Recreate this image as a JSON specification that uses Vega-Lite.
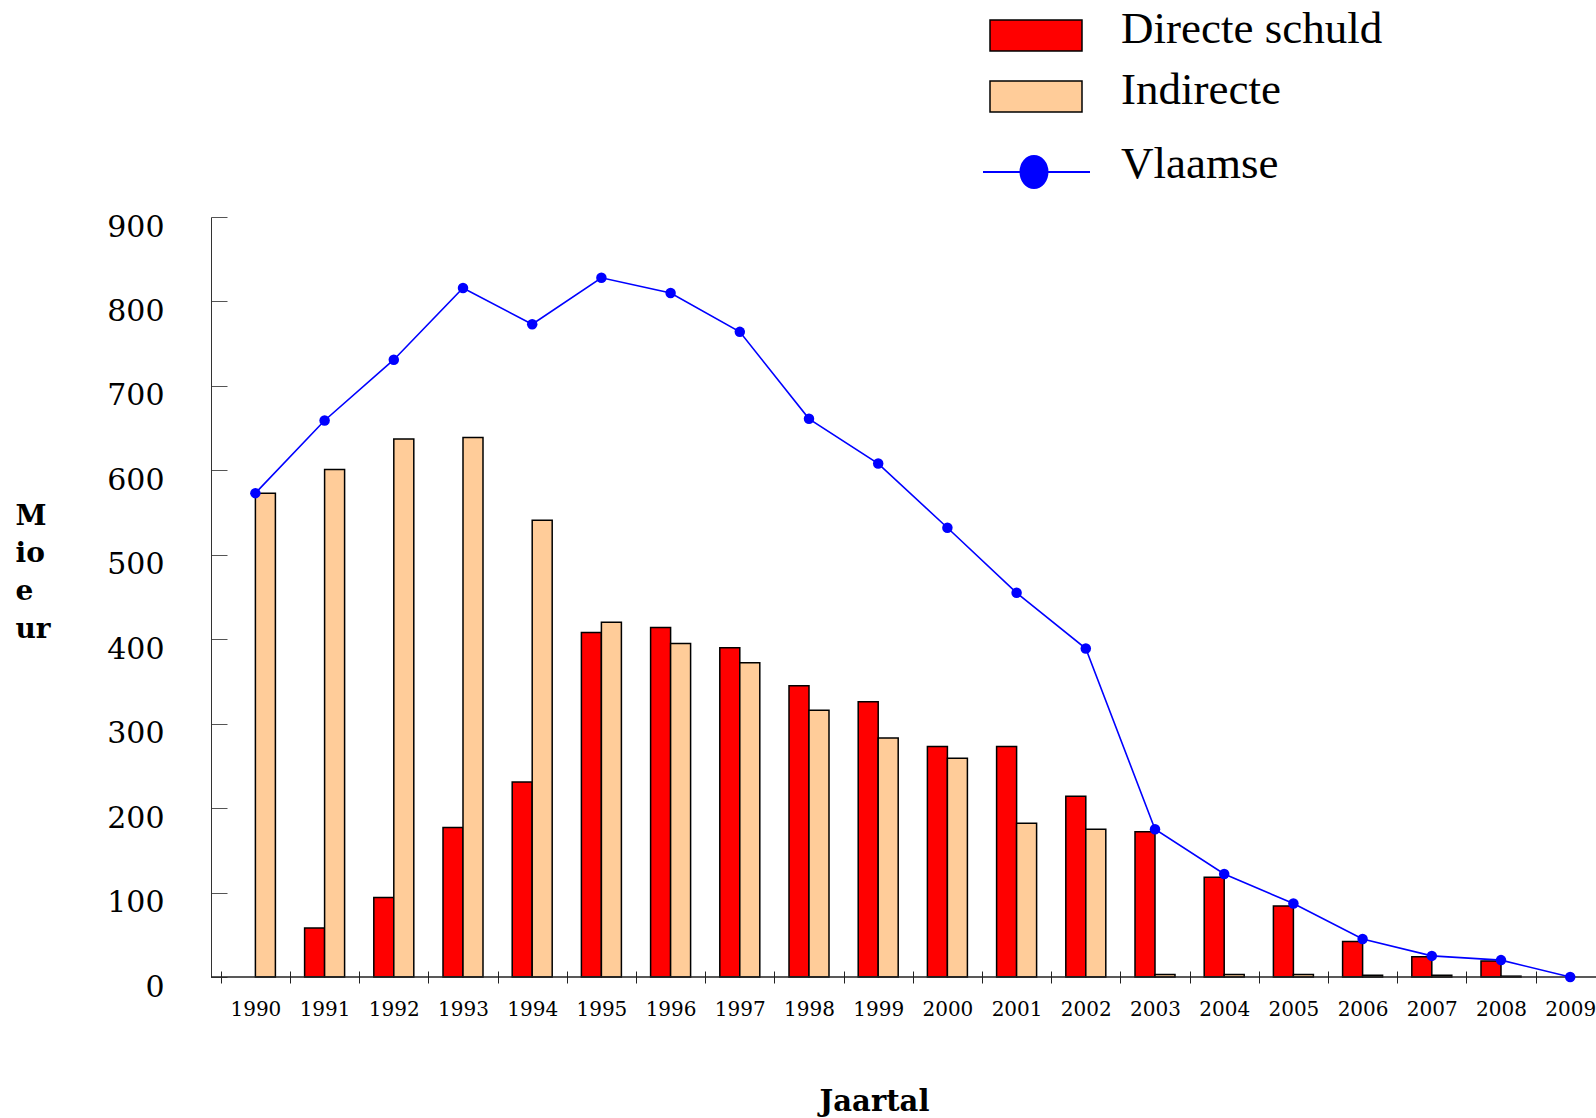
{
  "$schema": "https://vega.github.io/schema/vega-lite/v6.json",
  "width": 1385,
  "height": 760,
  "autosize": {"type": "none"},
  "padding": {"left": 211, "top": 217, "right": 0, "bottom": 141},
  "background": "white",
  "config": {"view": {"stroke": null}, "font": "DejaVu Serif"},
  "data": {"values": [
    {"year": 1990, "Directe schuld": null, "Indirecte": 573, "vlaamse": 573},
    {"year": 1991, "Directe schuld": 58, "Indirecte": 601, "vlaamse": 659},
    {"year": 1992, "Directe schuld": 94, "Indirecte": 637, "vlaamse": 731},
    {"year": 1993, "Directe schuld": 177, "Indirecte": 639, "vlaamse": 816},
    {"year": 1994, "Directe schuld": 231, "Indirecte": 541, "vlaamse": 773},
    {"year": 1995, "Directe schuld": 408, "Indirecte": 420, "vlaamse": 828},
    {"year": 1996, "Directe schuld": 414, "Indirecte": 395, "vlaamse": 810},
    {"year": 1997, "Directe schuld": 390, "Indirecte": 372, "vlaamse": 764},
    {"year": 1998, "Directe schuld": 345, "Indirecte": 316, "vlaamse": 661},
    {"year": 1999, "Directe schuld": 326, "Indirecte": 283, "vlaamse": 608},
    {"year": 2000, "Directe schuld": 273, "Indirecte": 259, "vlaamse": 532},
    {"year": 2001, "Directe schuld": 273, "Indirecte": 182, "vlaamse": 455},
    {"year": 2002, "Directe schuld": 214, "Indirecte": 175, "vlaamse": 389},
    {"year": 2003, "Directe schuld": 172, "Indirecte": 3, "vlaamse": 175},
    {"year": 2004, "Directe schuld": 118, "Indirecte": 3, "vlaamse": 122},
    {"year": 2005, "Directe schuld": 84, "Indirecte": 3, "vlaamse": 87},
    {"year": 2006, "Directe schuld": 42, "Indirecte": 2, "vlaamse": 45},
    {"year": 2007, "Directe schuld": 24, "Indirecte": 2, "vlaamse": 25},
    {"year": 2008, "Directe schuld": 19, "Indirecte": 1, "vlaamse": 20},
    {"year": 2009, "Directe schuld": null, "Indirecte": null, "vlaamse": 0}
  ]},
  "layer": [
    {
      "transform": [{"fold": ["Directe schuld", "Indirecte"], "as": ["serie", "waarde"]}],
      "mark": {"type": "bar", "stroke": "black", "strokeWidth": 1.5},
      "encoding": {
        "x": {
          "field": "year", "type": "ordinal",
          "scale": {"range": [0, 1403.6], "paddingInner": 0.422, "paddingOuter": 0.3526},
          "axis": {
            "title": "Jaartal", "titleFont": "DejaVu Serif", "titleFontWeight": "bold", "titleFontSize": 29,
            "titleColor": "black", "titleX": 663, "titleY": 139, "titleBaseline": "alphabetic", "titleAlign": "center",
            "labelAngle": 0, "labelFont": "DejaVu Serif", "labelFontSize": 20, "labelColor": "black",
            "labelBaseline": "alphabetic", "labelPadding": 32, "tickSize": 12, "tickColor": "#222",
            "bandPosition": 0, "tickOffset": -14.6, "labelOffset": 14.6,
            "domain": false, "offset": -6, "labelOverlap": false
          }
        },
        "xOffset": {"field": "serie", "type": "nominal", "scale": {"domain": ["Directe schuld", "Indirecte"]}},
        "y": {
          "field": "waarde", "type": "quantitative",
          "scale": {"domain": [0, 900], "nice": false},
          "axis": {
            "title": ["M", "io", "e", "ur"], "titleAngle": 0, "titleAlign": "left", "titleBaseline": "alphabetic",
            "titleX": -196, "titleY": 307, "titleFont": "DejaVu Serif", "titleFontSize": 28, "titleFontWeight": "bold",
            "titleLineHeight": 37.7, "titleColor": "black",
            "values": [0, 100, 200, 300, 400, 500, 600, 700, 800, 900],
            "labelFont": "DejaVu Serif", "labelFontSize": 30, "labelColor": "black",
            "labelBaseline": "alphabetic", "labelOffset": 19, "tickSize": -16, "labelPadding": 63,
            "tickColor": "#555", "domainColor": "#333", "grid": false
          }
        },
        "fill": {
          "field": "serie", "type": "nominal",
          "scale": {"domain": ["Directe schuld", "Indirecte"], "range": ["#ff0000", "#ffcc99"]},
          "legend": {
            "title": null, "orient": "none", "legendX": 778, "legendY": -219, "direction": "vertical",
            "symbolType": "M-1,-0.185L1,-0.185L1,0.489L-1,0.489Z", "symbolSize": 8464,
            "symbolStrokeColor": "black", "symbolStrokeWidth": 1.5,
            "labelFont": "Liberation Serif", "labelFontSize": 45, "labelColor": "black",
            "labelOffset": 38, "clipHeight": 61, "rowPadding": 0, "labelLimit": 500
          }
        }
      }
    },
    {
      "data": {"values": [{}]},
      "mark": {"type": "rule", "color": "#222", "strokeWidth": 1.5},
      "encoding": {"y": {"datum": 0}}
    },
    {
      "mark": {"type": "line", "strokeWidth": 1.6},
      "encoding": {
        "x": {"field": "year", "type": "ordinal"},
        "y": {
          "field": "vlaamse", "type": "quantitative",
          "axis": {
            "title": ["M", "io", "e", "ur"], "titleAngle": 0, "titleAlign": "left", "titleBaseline": "alphabetic",
            "titleX": -196, "titleY": 307, "titleFont": "DejaVu Serif", "titleFontSize": 28, "titleFontWeight": "bold",
            "titleLineHeight": 37.7, "titleColor": "black",
            "values": [0, 100, 200, 300, 400, 500, 600, 700, 800, 900],
            "labelFont": "DejaVu Serif", "labelFontSize": 30, "labelColor": "black",
            "labelBaseline": "alphabetic", "labelOffset": 19, "tickSize": -16, "labelPadding": 63,
            "tickColor": "#555", "domainColor": "#333", "grid": false
          }
        },
        "stroke": {
          "datum": "Vlaamse",
          "scale": {"domain": ["Vlaamse"], "range": ["#0000ff"]},
          "legend": {
            "title": null, "orient": "none", "legendX": 771, "legendY": -84,
            "symbolType": "M-1,0.159L1,0.159M-0.299,0.159A0.252,0.299 0 1,0 0.205,0.159A0.252,0.299 0 1,0 -0.299,0.159Z",
            "symbolSize": 11449, "symbolFillColor": "#0000ff", "symbolStrokeWidth": 2,
            "labelFont": "Liberation Serif", "labelFontSize": 45, "labelColor": "black",
            "labelOffset": 30, "clipHeight": 61, "labelLimit": 500
          }
        }
      }
    },
    {
      "mark": {"type": "point", "filled": true, "color": "#0000ff", "size": 110, "opacity": 1},
      "encoding": {
        "x": {"field": "year", "type": "ordinal"},
        "y": {
          "field": "vlaamse", "type": "quantitative",
          "axis": {
            "title": ["M", "io", "e", "ur"], "titleAngle": 0, "titleAlign": "left", "titleBaseline": "alphabetic",
            "titleX": -196, "titleY": 307, "titleFont": "DejaVu Serif", "titleFontSize": 28, "titleFontWeight": "bold",
            "titleLineHeight": 37.7, "titleColor": "black",
            "values": [0, 100, 200, 300, 400, 500, 600, 700, 800, 900],
            "labelFont": "DejaVu Serif", "labelFontSize": 30, "labelColor": "black",
            "labelBaseline": "alphabetic", "labelOffset": 19, "tickSize": -16, "labelPadding": 63,
            "tickColor": "#555", "domainColor": "#333", "grid": false
          }
        }
      }
    }
  ]
}
